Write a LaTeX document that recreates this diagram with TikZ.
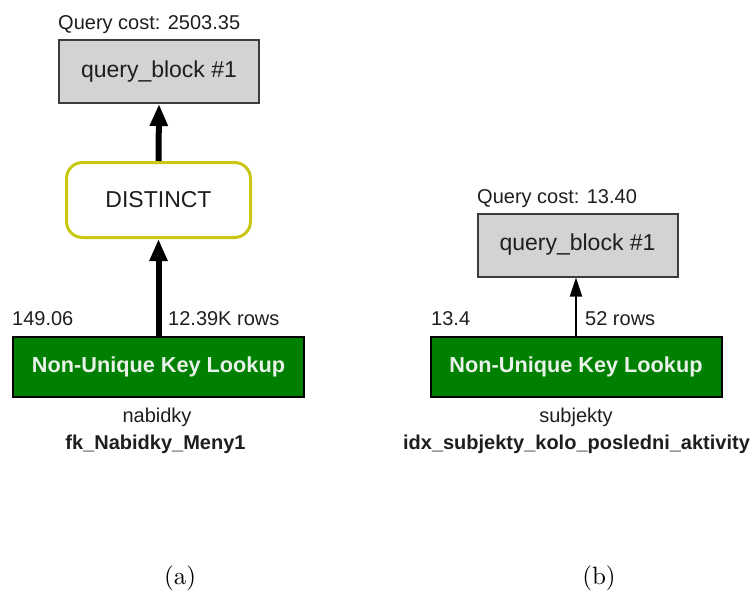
\documentclass[tikz,border=0pt]{standalone}
\usepackage{fontspec}
\newfontfamily\planfont{Liberation Sans}
\usetikzlibrary{arrows.meta}

\definecolor{boxgray}{RGB}{211,211,211}
\definecolor{edgegray}{RGB}{60,60,60}
\definecolor{lookupgreen}{RGB}{0,128,0}
\definecolor{lookuptext}{RGB}{232,242,232}
\definecolor{distinctedge}{RGB}{200,200,20}
\definecolor{labelink}{RGB}{30,30,30}

\tikzset{
  qblock/.style={draw=edgegray, line width=2pt, fill=boxgray, inner sep=0pt,
    minimum width=200pt, minimum height=63pt,
    font=\planfont\fontsize{23}{26}\selectfont, text=labelink},
  lookup/.style={draw=black, line width=2pt, fill=lookupgreen, inner sep=0pt,
    minimum width=291pt, minimum height=60pt,
    font=\planfont\bfseries\fontsize{21.7}{25}\selectfont, text=lookuptext},
  distinctbox/.style={draw=distinctedge, line width=3pt, fill=white, rounded corners=16pt,
    inner sep=0pt, minimum width=184pt, minimum height=75pt,
    font=\planfont\fontsize{23}{26}\selectfont, text=labelink},
  costlabel/.style={anchor=base west, inner sep=0pt,
    font=\planfont\fontsize{20}{23}\selectfont, text=labelink},
  tablelabel/.style={anchor=base, inner sep=0pt,
    font=\planfont\fontsize{20}{23}\selectfont, text=labelink},
  keylabel/.style={anchor=base, inner sep=0pt,
    font=\planfont\bfseries\fontsize{20}{23}\selectfont, text=labelink},
  caption/.style={anchor=base, inner sep=0pt},
  heavyflow/.style={line width=6pt, -{Triangle[length=22pt,width=17pt]}},
  lightflow/.style={line width=2pt, -{Triangle[length=19pt,width=12pt]}}
}

\begin{document}
\begin{tikzpicture}[x=1pt,y=-1pt]
  \useasboundingbox (0,0) rectangle (752,597);

  % plan (a): lookup -> DISTINCT -> query block
  \node[qblock] (qa) at (159,71.5) {query\_block \#1};
  \node[costlabel] (costa) at (58,29) {Query cost: 2503.35};
  \node[distinctbox] (dist) at (158.5,200) {DISTINCT};
  \node[lookup] (la) at (158.5,367) {Non-Unique Key Lookup};
  \node[costlabel] (pa) at (12,325) {149.06};
  \node[costlabel] (ra) at (168,325) {12.39K rows};
  \node[tablelabel] (ta) at (157,422) {nabidky};
  \node[keylabel] (ka) at (155.5,449) {fk\_Nabidky\_Meny1};
  \node[caption] (capa) at (180,584) {\scalebox{2.5}{\normalsize (a)}};

  \draw[heavyflow] (la.north) -- (dist.south);
  \draw[heavyflow] (dist.north) -- (qa.south);

  % plan (b): lookup -> query block
  \node[qblock] (qb) at (577.5,245) {query\_block \#1};
  \node[costlabel] (costb) at (477,203) {Query cost: 13.40};
  \node[lookup] (lb) at (576,367) {Non-Unique Key Lookup};
  \node[costlabel] (pb) at (431,325) {13.4};
  \node[costlabel] (rb) at (585,325) {52 rows};
  \node[tablelabel] (tb) at (576,422) {subjekty};
  \node[keylabel] (kb) at (576.5,449) {idx\_subjekty\_kolo\_posledni\_aktivity};
  \node[caption] (capb) at (599,584) {\scalebox{2.5}{\normalsize (b)}};

  \draw[lightflow] (lb.north) -- (lb.north |- qb.south);
\end{tikzpicture}
\end{document}
